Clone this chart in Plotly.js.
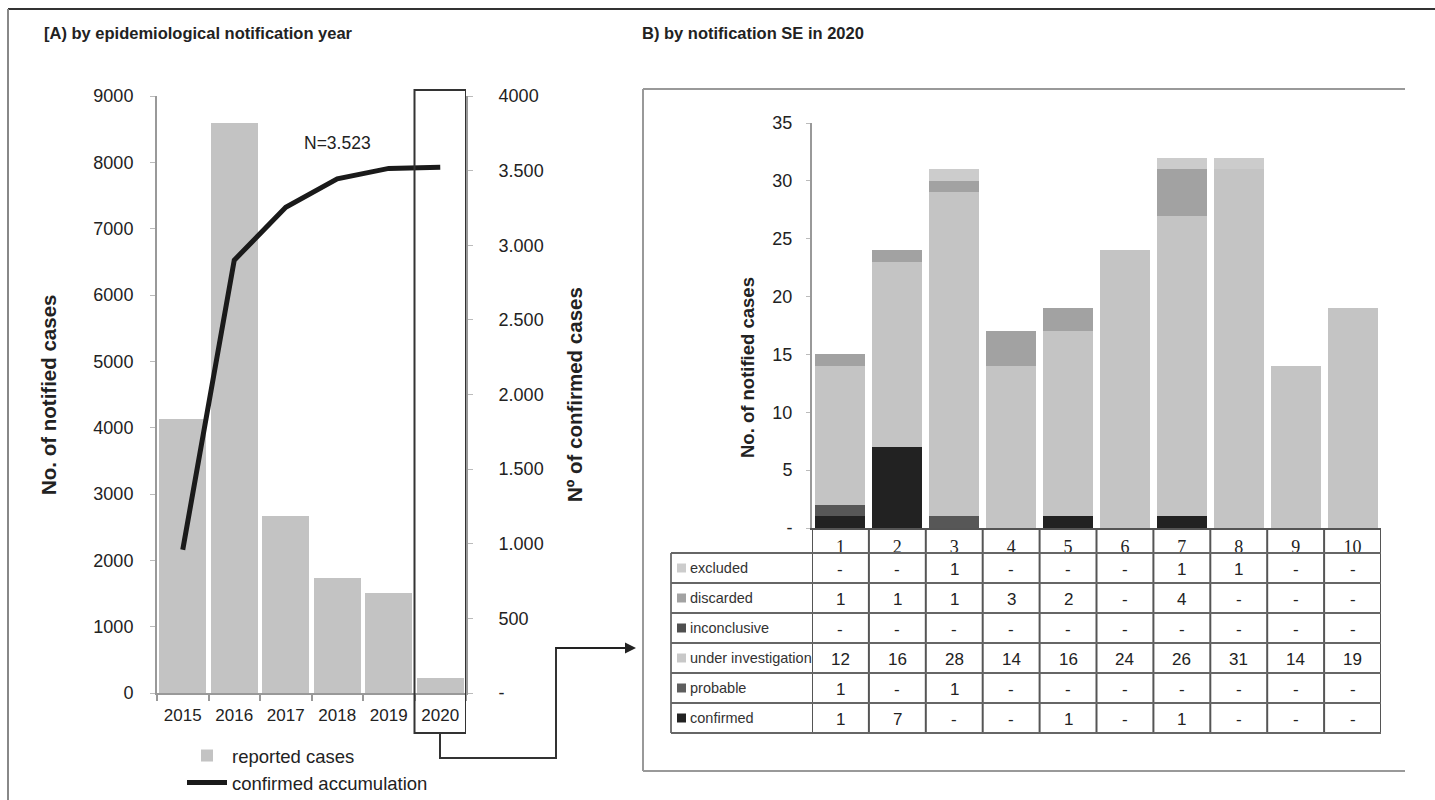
<!DOCTYPE html>
<html>
<head>
<meta charset="utf-8">
<script src="https://cdn.plot.ly/plotly-3.0.1.min.js"></script>
<style>html,body{margin:0;padding:0;background:#fff;}#chart{width:1435px;height:800px;}</style>
</head>
<body>
<div id="chart"></div>
<script>
// ---- Panel A data ----
const years = ['2015', '2016', '2017', '2018', '2019', '2020'];
const reportedCases = [4130, 8600, 2670, 1740, 1510, 230];
const confirmedAccum = [960, 2900, 3255, 3445, 3515, 3523];
const leftTickVals = [0, 500, 1000, 1500, 2000, 2500, 3000, 3500, 4000];
const leftTickText = ['-', '500', '1.000', '1.500', '2.000', '2.500', '3.000', '3.500', '4000'];

// ---- Panel B data (epidemiological week) ----
const weeks = ['1', '2', '3', '4', '5', '6', '7', '8', '9', '10'];
const confirmed = [1, 7, 0, 0, 1, 0, 1, 0, 0, 0];
const probable = [1, 0, 1, 0, 0, 0, 0, 0, 0, 0];
const underInvestigation = [12, 16, 28, 14, 16, 24, 26, 31, 14, 19];
const inconclusive = [0, 0, 0, 0, 0, 0, 0, 0, 0, 0];
const discarded = [1, 1, 1, 3, 2, 0, 4, 0, 0, 0];
const excluded = [0, 0, 1, 0, 0, 0, 1, 1, 0, 0];
const rightTickVals = [0, 5, 10, 15, 20, 25, 30, 35];
const rightTickText = ['-', '5', '10', '15', '20', '25', '30', '35'];

const W = 1435, H = 800;
const px = x => x / W;
const py = y => 1 - y / H;
const FONT = 'Liberation Sans, Arial, sans-serif';
const SERIF = 'Liberation Serif, Times New Roman, serif';

// stacking order (bottom -> top) with colours
const stackSeries = [
  {name: 'confirmed', values: confirmed, color: '#222222', legend: '#222222'},
  {name: 'probable', values: probable, color: '#575757', legend: '#5e5e5e'},
  {name: 'under investigation', values: underInvestigation, color: '#c4c4c4', legend: '#c8c8c8'},
  {name: 'inconclusive', values: inconclusive, color: '#4a4a4a', legend: '#4f4f4f'},
  {name: 'discarded', values: discarded, color: '#a2a2a2', legend: '#a2a2a2'},
  {name: 'excluded', values: excluded, color: '#cccccc', legend: '#cccccc'}
];
// table rows (top -> bottom)
const tableRows = ['excluded', 'discarded', 'inconclusive', 'under investigation', 'probable', 'confirmed']
  .map(n => stackSeries.find(s => s.name === n));

const traces = [
  {type: 'bar', x: years, y: reportedCases, name: 'reported cases', xaxis: 'x', yaxis: 'y',
   marker: {color: '#c3c3c3'}, width: 0.92, hoverinfo: 'x+y'},
  {type: 'scatter', mode: 'lines', x: years, y: confirmedAccum, name: 'confirmed accumulation',
   xaxis: 'x', yaxis: 'y2', line: {color: '#1a1a1a', width: 5}}
];
stackSeries.forEach(s => {
  traces.push({type: 'bar', x: weeks, y: s.values, name: s.name, xaxis: 'x2', yaxis: 'y3',
    marker: {color: s.color}, width: 0.88, showlegend: false});
});

const fmtDot = n => String(n).replace(/\B(?=(\d{3})+(?!\d))/g, '.');

const shapes = [];
const annotations = [];
const gline = (x0, y0, x1, y1, color, w, xref) => shapes.push({type: 'line', xref: xref || 'paper', yref: 'paper',
  x0: x0, y0: y0, x1: x1, y1: y1, line: {color: color, width: w}});

// outer border
gline(px(8), py(9), px(1435), py(9), '#333', 2);
gline(px(8), py(9), px(8), py(800), '#888', 2);
// panel B frame
gline(px(643), py(89), px(1405), py(89), '#999', 2);
gline(px(643), py(89), px(643), py(771), '#999', 2);
gline(px(643), py(771), px(1405), py(771), '#999', 2);
// 2020 highlight box (category index of the last year)
const lastIdx = years.length - 1;
shapes.push({type: 'rect', xref: 'x', yref: 'paper', x0: lastIdx - 0.5, x1: lastIdx + 0.5, y0: py(733), y1: py(90),
  line: {color: '#333', width: 2}, fillcolor: 'rgba(0,0,0,0)'});
// connector
shapes.push({type: 'path', xref: 'paper', yref: 'paper',
  path: `M${px(440)},${py(733)} L${px(440)},${py(758)} L${px(556)},${py(758)} L${px(556)},${py(648)} L${px(630)},${py(648)}`,
  line: {color: '#333', width: 2}});
annotations.push({xref: 'paper', yref: 'paper', x: px(636), y: py(648), ax: -82, ay: 0, text: '',
  showarrow: true, arrowhead: 2, arrowsize: 1.1, arrowwidth: 2, arrowcolor: '#222'});

// table grid
const tableTop = 528, headBottom = 553, rowH = 30, labelLeft = 671;
const tableBottom = headBottom + rowH * tableRows.length;
for (let i = 0; i <= weeks.length; i++) {
  gline(i - 0.5, py(tableTop), i - 0.5, py(tableBottom), '#555', 2, 'x2');
}
gline(px(labelLeft), py(headBottom), px(labelLeft), py(tableBottom), '#777', 2);
for (let r = 0; r <= tableRows.length; r++) {
  gline(px(labelLeft), py(headBottom + r * rowH), px(1381), py(headBottom + r * rowH), '#666', 2);
}
tableRows.forEach((s, r) => {
  const cy = headBottom + rowH * r + rowH / 2;
  shapes.push({type: 'rect', xref: 'paper', yref: 'paper', x0: px(677), x1: px(686), y0: py(cy + 4.5), y1: py(cy - 4.5),
    line: {width: 0}, fillcolor: s.legend});
  annotations.push({xref: 'paper', yref: 'paper', x: px(688), y: py(cy), xanchor: 'left', yanchor: 'middle',
    text: s.name, showarrow: false, font: {family: FONT, size: 14.5, color: '#333'}});
  s.values.forEach((v, i) => {
    annotations.push({xref: 'x2', yref: 'paper', x: i, y: py(cy + 1), yanchor: 'middle',
      text: v === 0 ? '-' : String(v), showarrow: false, font: {family: FONT, size: 17, color: '#222'}});
  });
});

// titles
annotations.push({xref: 'paper', yref: 'paper', x: px(42), y: py(33), xanchor: 'left', yanchor: 'middle',
  text: '<b>[A) by epidemiological notification year</b>', showarrow: false, font: {family: FONT, size: 16.5, color: '#222'}});
annotations.push({xref: 'paper', yref: 'paper', x: px(640), y: py(33), xanchor: 'left', yanchor: 'middle',
  text: '<b>B) by notification SE in 2020</b>', showarrow: false, font: {family: FONT, size: 16.5, color: '#222'}});
// axis titles
annotations.push({xref: 'paper', yref: 'paper', x: px(48), y: py(395), textangle: -90, xanchor: 'center', yanchor: 'middle',
  text: '<b>No. of notified cases</b>', showarrow: false, font: {family: FONT, size: 20.5, color: '#222'}});
annotations.push({xref: 'paper', yref: 'paper', x: px(574), y: py(395), textangle: -90, xanchor: 'center', yanchor: 'middle',
  text: '<b>Nº of confirmed cases</b>', showarrow: false, font: {family: FONT, size: 20.5, color: '#222'}});
annotations.push({xref: 'paper', yref: 'paper', x: px(747), y: py(368), textangle: -90, xanchor: 'center', yanchor: 'middle',
  text: '<b>No. of notified cases</b>', showarrow: false, font: {family: FONT, size: 18.5, color: '#222'}});
// N total (placed above the 2018 category)
annotations.push({xref: 'x', yref: 'y', x: 3, y: 8290, text: 'N=' + fmtDot(confirmedAccum[confirmedAccum.length - 1]),
  showarrow: false, font: {family: FONT, size: 17.5, color: '#222'}});

const layout = {
  width: W, height: H,
  margin: {l: 0, r: 0, t: 0, b: 0, autoexpand: false},
  paper_bgcolor: '#fff', plot_bgcolor: 'rgba(0,0,0,0)',
  font: {family: FONT, color: '#222'},
  barmode: 'stack',
  showlegend: true,
  legend: {x: px(182), y: py(737), xanchor: 'left', yanchor: 'top', orientation: 'v', traceorder: 'normal',
    font: {family: FONT, size: 18.5, color: '#222'}, bgcolor: 'rgba(0,0,0,0)', itemwidth: 40, tracegroupgap: 0},
  xaxis: {domain: [px(157), px(466)], type: 'category', range: [-0.5, years.length - 0.5], anchor: 'y',
    showline: true, linecolor: '#999', linewidth: 2,
    ticks: 'outside', tickson: 'boundaries', ticklen: 6, tickcolor: '#999', tickwidth: 2,
    tickfont: {family: FONT, size: 17, color: '#222'}, ticklabelstandoff: 6, showgrid: false},
  yaxis: {domain: [py(693), py(96)], range: [0, 9000], anchor: 'x', showline: true, linecolor: '#999', linewidth: 2,
    tickvals: [0, 1000, 2000, 3000, 4000, 5000, 6000, 7000, 8000, 9000],
    ticks: 'outside', ticklen: 5, tickcolor: '#bbb', showgrid: false, zeroline: false,
    tickfont: {family: FONT, size: 18, color: '#222'}, ticklabelstandoff: 13},
  yaxis2: {overlaying: 'y', side: 'right', anchor: 'x', range: [0, 4000], showline: true, linecolor: '#999', linewidth: 2,
    tickvals: leftTickVals, ticktext: leftTickText, ticks: 'outside', ticklen: 5, tickcolor: '#bbb',
    showgrid: false, zeroline: false, tickfont: {family: FONT, size: 18, color: '#222'}, ticklabelstandoff: 22},
  xaxis2: {domain: [px(812), px(1381)], type: 'category', range: [-0.5, weeks.length - 0.5], anchor: 'y3',
    showline: true, linecolor: '#555', linewidth: 2,
    ticks: '', tickfont: {family: SERIF, size: 18, color: '#222'}, ticklabelstandoff: 1, showgrid: false},
  yaxis3: {domain: [py(528), py(123)], range: [0, 35], anchor: 'x2', showline: true, linecolor: '#999', linewidth: 2,
    tickvals: rightTickVals, ticktext: rightTickText, ticks: 'outside', ticklen: 4, tickcolor: '#bbb',
    showgrid: false, zeroline: false, tickfont: {family: FONT, size: 18, color: '#222'}, ticklabelstandoff: 10},
  shapes: shapes,
  annotations: annotations
};

Plotly.newPlot('chart', traces, layout, {displayModeBar: false, staticPlot: true});
</script>
</body>
</html>
